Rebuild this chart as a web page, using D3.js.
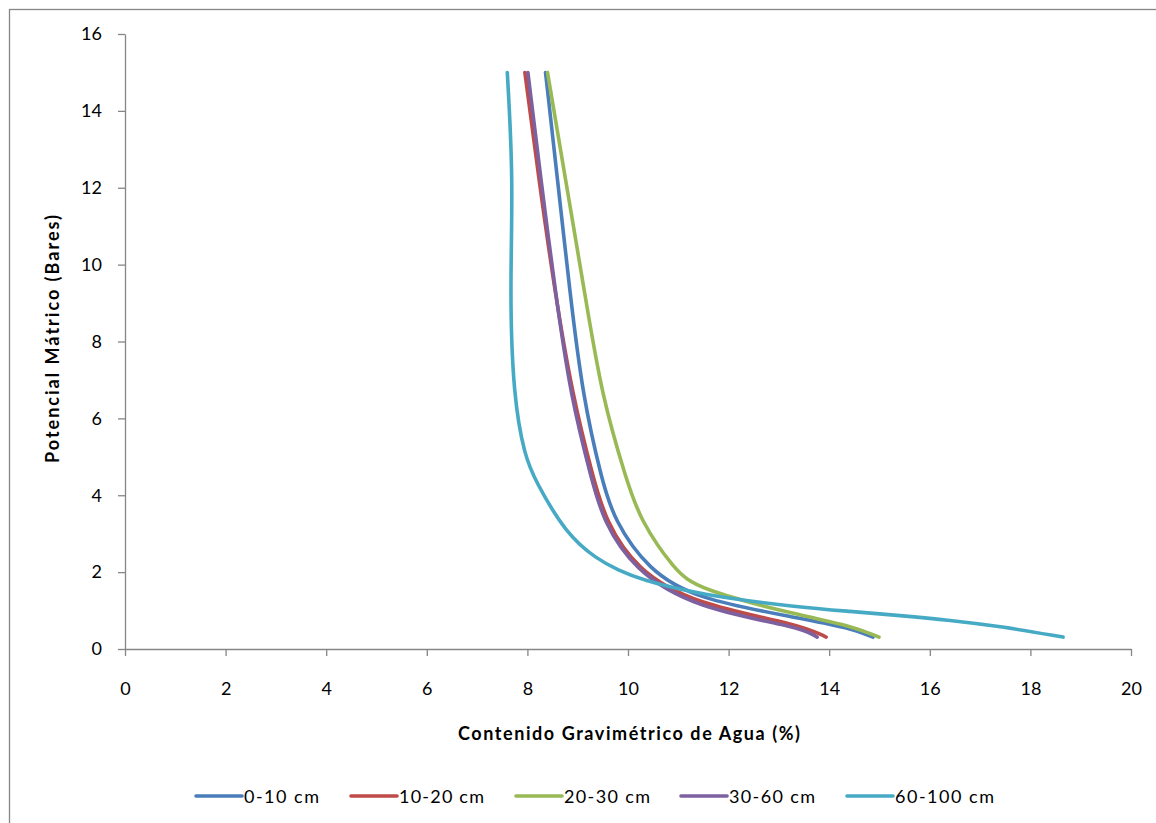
<!DOCTYPE html>
<html lang="es">
<head>
  <meta charset="UTF-8">
  <title>Curvas de retención</title>
  <style>
    body { margin: 0; background: #fff; }
    .axis text { font-family: Lato, "Open Sans", sans-serif; font-size: 18px; fill: #000; }
    .axis path, .axis line { stroke: #868686; stroke-width: 1.3; }
    .title { font-family: Lato, "Open Sans", sans-serif; font-size: 18px; font-weight: bold; }
    .legend text { font-family: Lato, "Open Sans", sans-serif; font-size: 18px; }
  </style>
</head>
<body>
<script src="https://cdn.jsdelivr.net/npm/d3@7"></script>
<script>
  // series: [contenido gravimetrico (%), potencial matrico (bares)]
  var seriesNames = ["0-10 cm", "10-20 cm", "20-30 cm", "30-60 cm", "60-100 cm"];
  var colors = ["#4A7EBB", "#BE4B48", "#98B954", "#7D60A0", "#46AAC5"];

  var s0_10 = [[8.36,15],[8.60,12.2],[8.84,9.34],[9.10,6.56],[9.48,4.4],[9.72,3.36],[10.40,2.06],[11.35,1.30],[13.42,0.80],[14.41,0.55],[14.87,0.31]];
  var s10_20 = [[7.95,15],[8.23,12.2],[8.54,9.34],[8.90,6.56],[9.32,4.4],[9.55,3.36],[10.16,2.06],[11.35,1.16],[13.42,0.64],[13.94,0.31]];
  var s20_30 = [[8.40,15],[8.76,12.2],[9.13,9.34],[9.48,6.56],[9.97,4.4],[10.24,3.36],[10.92,2.06],[11.38,1.56],[13.42,0.87],[14.41,0.61],[14.99,0.31]];
  var s30_60 = [[8.01,15],[8.27,12.2],[8.55,9.34],[8.86,6.56],[9.28,4.4],[9.50,3.36],[10.11,2.06],[11.35,1.06],[13.42,0.57],[13.76,0.31]];
  var s60_100 = [[7.60,15],[7.72,12.2],[7.65,9.34],[7.72,6.56],[7.95,5.0],[8.15,4.4],[8.76,3.0],[9.40,2.32],[9.80,2.06],[10.26,1.8],[11.40,1.42],[13.42,1.08],[14.41,0.98],[15.41,0.87],[16.40,0.75],[17.40,0.59],[18.65,0.31]];
  var allSeries = [s0_10, s10_20, s20_30, s30_60, s60_100];

  var xTicks = [0,2,4,6,8,10,12,14,16,18,20];
  var yTicks = [0,2,4,6,8,10,12,14,16];

  var W = 1156, H = 823;
  var plot = {left:125, right:1131, top:34, bottom:649};

  var svg = d3.select("body").append("svg").attr("width", W).attr("height", H);

  // chart frame (right/bottom edges fall outside the picture)
  svg.append("rect").attr("x", 9.5).attr("y", 9.5).attr("width", 1160).attr("height", 830)
    .attr("fill", "none").attr("stroke", "#868686").attr("stroke-width", 1.3);

  var x = d3.scaleLinear().domain([0,20]).range([plot.left, plot.right]);
  var y = d3.scaleLinear().domain([0,16]).range([plot.bottom, plot.top]);

  svg.append("g").attr("class","axis")
    .attr("transform","translate(0,"+plot.bottom+")")
    .call(d3.axisBottom(x).tickValues(xTicks).tickSize(7).tickSizeOuter(0).tickPadding(26));

  svg.append("g").attr("class","axis")
    .attr("transform","translate("+plot.left+",0)")
    .call(d3.axisLeft(y).tickValues(yTicks).tickSize(7).tickSizeOuter(0).tickPadding(16));

  var line = d3.line()
    .x(function(d){ return x(d[0]); })
    .y(function(d){ return y(d[1]); })
    .curve(d3.curveBasis);

  svg.selectAll(".serie")
    .data(allSeries)
    .enter().append("path")
    .attr("class","serie")
    .attr("fill","none")
    .attr("stroke", function(d,i){ return colors[i]; })
    .attr("stroke-width", 3.6)
    .attr("stroke-linecap","round")
    .attr("d", line);

  svg.append("text").attr("class","title")
    .attr("x", 458).attr("y", 740)
    .attr("textLength", 342).attr("lengthAdjust", "spacing")
    .text("Contenido Gravimétrico  de Agua (%)");

  svg.append("text").attr("class","title")
    .attr("transform","translate(59,463) rotate(-90)")
    .attr("textLength", 248).attr("lengthAdjust", "spacing")
    .text("Potencial Mátrico  (Bares)");

  var legendX = [196, 351, 516, 681, 847];
  var legendW = [75, 85, 86, 86, 99];
  var lg = svg.append("g").attr("class","legend");
  seriesNames.forEach(function(n,i){
    lg.append("line").attr("x1", legendX[i]).attr("x2", legendX[i]+46)
      .attr("y1", 796).attr("y2", 796)
      .attr("stroke", colors[i]).attr("stroke-width", 3.6).attr("stroke-linecap","round");
    lg.append("text").attr("x", legendX[i]+48).attr("y", 803)
      .attr("textLength", legendW[i]).attr("lengthAdjust", "spacing").text(n);
  });
</script>
</body>
</html>
